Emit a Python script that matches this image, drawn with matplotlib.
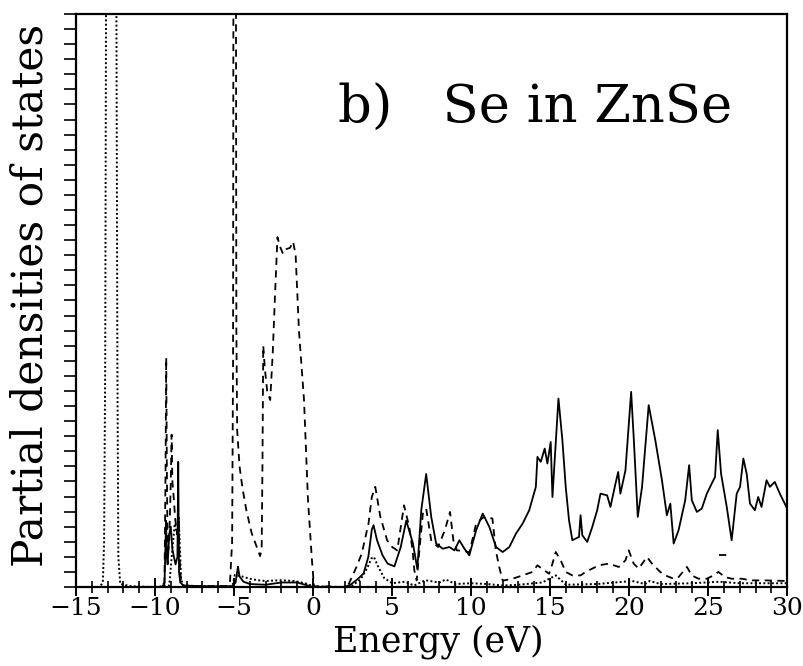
import numpy as np
import matplotlib
matplotlib.use("Agg")
import matplotlib.pyplot as plt
from matplotlib.ticker import MultipleLocator, NullFormatter

# ---- data (energy in eV, PDOS in arbitrary units) ----
# values above the frame (~38) are off scale in the original
solid_E = [-15, -9.6, -9.4, -9.33, -9.3, -9.25, -9.2, -9.1, -9.0, -8.9, -8.7, -8.58,
           -8.53, -8.48, -8.4, -8.2, -7.0, -6.0, -5.1, -4.9, -4.8, -4.75, -4.65, -4.4,
           -4.0, -3.0, -2.0, -1.0, -0.5, 0.0, 1.5, 1.9, 2.3, 2.8, 3.2, 3.5, 3.72, 3.83,
           4.05, 4.4, 4.72, 5.15, 5.55, 5.9, 6.32, 6.6, 6.85, 7.16, 7.48, 7.79, 8.21,
           8.63, 8.95, 9.26, 9.58, 9.89, 10.32, 10.74, 11.16, 11.58, 12.0, 12.42, 12.84,
           13.26, 13.68, 14.1, 14.2, 14.41, 14.66, 14.83, 15.04, 15.15, 15.53, 15.78,
           15.99, 16.2, 16.41, 16.83, 16.93, 17.04, 17.35, 17.67, 17.98, 18.19, 18.61,
           18.82, 19.14, 19.31, 19.45, 19.77, 20.13, 20.29, 20.55, 20.82, 21.24, 21.66,
           22.08, 22.39, 22.61, 22.82, 23.13, 23.55, 23.8, 23.97, 24.29, 24.6, 24.92,
           25.23, 25.44, 25.61, 25.82, 26.18, 26.49, 26.81, 27.02, 27.23, 27.44, 27.65,
           27.96, 28.17, 28.38, 28.7, 28.91, 29.22, 29.54, 29.85, 30.0]
solid_D = [0, 0, 0.2, 3.0, 4.4, 2.0, 1.5, 3.5, 4.0, 2.5, 1.5, 2.0,
           8.3, 1.0, 0.3, 0.1, 0.05, 0.05, 0.05, 0.3, 1.0, 1.35, 0.7, 0.35,
           0.2, 0.15, 0.3, 0.3, 0.15, 0.0, 0.0, 0.0, 0.1, 0.5, 0.9, 2.0, 3.8, 4.1,
           3.1, 2.1, 1.55, 1.37, 2.65, 4.4, 2.9, 1.2, 5.1, 7.5, 4.65, 2.88, 2.54,
           2.65, 2.43, 3.1, 2.54, 2.1, 3.76, 4.87, 3.98, 2.65, 2.32, 2.65, 3.54,
           4.2, 5.09, 6.64, 8.63, 8.3, 9.18, 8.19, 9.62, 5.97, 12.5, 9.73,
           6.64, 4.42, 3.1, 3.32, 4.76, 3.43, 2.99, 3.98, 5.09, 6.19, 6.08,
           5.31, 6.86, 7.63, 6.19, 7.74, 12.94, 9.96, 4.65, 6.64, 12.06, 9.73,
           7.08, 4.76, 5.53, 2.88, 3.76, 5.75, 8.08, 5.75, 4.98, 5.2, 6.19,
           6.86, 7.3, 10.4, 7.52, 5.31, 3.1, 6.19, 6.64, 8.52, 7.52, 5.53,
           5.09, 5.97, 5.31, 7.08, 6.64, 6.97, 6.19, 5.53, 5.2]

dashed_E = [-15, -9.6, -9.4, -9.33, -9.29, -9.25, -9.2, -9.1, -9.0, -8.95, -8.9, -8.82,
            -8.72, -8.6, -8.5, -8.45, -8.35, -8.2, -6.0, -5.4, -5.25, -5.12, -5.06, -5.02,
            -4.9, -4.85, -4.8, -4.65, -4.47, -4.22, -3.89, -3.56, -3.35, -3.25, -3.2,
            -3.15, -3.05, -2.9, -2.71, -2.55, -2.4, -2.25, -2.1, -1.9, -1.7, -1.45,
            -1.26, -1.1, -0.89, -0.57, -0.32, -0.07, 0.06, 1.9, 2.22, 2.75, 3.08, 3.51,
            3.72, 3.94, 4.26, 4.69, 5.01, 5.33, 5.76, 6.09, 6.3, 6.41, 6.56, 6.73, 6.95,
            7.16, 7.48, 7.91, 8.34, 8.67, 8.88, 9.1, 9.5, 9.9, 10.32, 10.75, 10.92, 11.35,
            11.57, 11.78, 12.0, 12.1, 12.63, 13.26, 13.89, 14.2, 14.62, 14.94, 15.15,
            15.36, 15.67, 15.99, 16.41, 16.93, 17.25, 17.67, 18.09, 18.72, 19.35, 19.77,
            19.98, 20.29, 20.61, 21.13, 21.45, 21.97, 22.29, 22.82, 23.13, 23.66, 23.97,
            24.39, 24.92, 25.34, 25.65, 26.07, 26.49, 27.12, 27.75, 28.6, 29.85, 30.0]
dashed_D = [0, 0, 0.3, 8.0, 15.2, 8.0, 2.0, 3.0, 7.0, 10.1, 7.0, 6.0,
            4.5, 3.5, 4.6, 2.0, 0.2, 0.05, 0.05, 0.05, 0.4, 3.0, 15.0, 60,
            60, 17.0, 10.4, 8.0, 6.6, 5.1, 3.6, 2.65, 2.05, 2.5, 8.0,
            16.0, 14.5, 13.0, 12.4, 15.5, 19.5, 23.2, 22.6, 22.1, 22.4, 22.5,
            22.9, 22.0, 17.0, 12.4, 5.8, 1.8, 0.05, 0.0, 0.11, 1.33, 2.21, 4.2,
            5.97, 6.64, 4.65, 3.1, 2.65, 2.43, 5.42, 3.98, 2.43, 1.11, 0.44, 2.43, 4.87,
            5.2, 3.1, 2.65, 3.76, 4.98, 3.1, 2.43, 2.4, 2.3, 4.2, 4.6, 4.65, 4.54,
            2.43, 1.33, 0.44, 0.44, 0.55, 0.77, 1.0, 1.44, 1.11, 0.88, 1.55,
            2.32, 1.77, 1.0, 0.77, 0.77, 1.0, 1.22, 1.44, 1.55, 1.33, 1.77,
            2.43, 1.55, 1.22, 1.99, 1.55, 1.0, 0.77, 0.55, 0.66, 1.33, 0.77,
            0.55, 0.55, 0.77, 1.0, 0.66, 0.55, 0.55, 0.44, 0.44, 0.4, 0.4]

# short stray dashed piece near 26 eV in the original
stray_E = [25.7, 26.2]
stray_D = [2.1, 2.1]

dotted_E = [-15, -13.5, -13.3, -13.22, -13.15, -13.05, -12.5, -12.38, -12.32, -12.2,
            -11.5, -10.0, -9.1, -8.9, -8.75, -8.6, -8.5, -8.42, -8.35, -8.2, -7.0,
            -5.1, -4.95, -4.5, -4.0, -3.5, -3.0, -2.0, -1.2, -0.5, 0.0, 1.9, 2.5, 3.0,
            3.4, 3.7, 3.85, 4.1, 4.5, 5.0, 5.8, 6.4, 7.1, 8.0, 8.4, 9.0, 10.0, 11.0,
            12.0, 13.0, 14.5, 15.36, 16.0, 18.0, 20.2, 21.0, 21.3, 22.0, 24.0, 25.7,
            27.0, 30.0]
dotted_D = [0, 0, 0.3, 3.0, 15.0, 60, 60, 15.0, 2.0, 0.2,
            0.05, 0.0, 0.1, 2.5, 4.2, 3.5, 4.6, 2.5, 0.5, 0.1, 0.05,
            0.05, 0.8, 0.7, 0.55, 0.45, 0.4, 0.45, 0.4, 0.25, 0.05, 0.0, 0.1, 0.5,
            1.2, 1.9, 2.0, 1.4, 0.6, 0.25, 0.35, 0.1, 0.45, 0.3, 0.5, 0.2, 0.25, 0.2,
            0.1, 0.15, 0.3, 0.77, 0.15, 0.2, 0.4, 0.2, 0.4, 0.2, 0.25, 0.35,
            0.25, 0.25]

plt.rcParams['font.family'] = ['DejaVu Serif']

fig = plt.figure(figsize=(8.04, 6.66), dpi=100)
ax = fig.add_axes([0.0945, 0.1186, 0.8845, 0.8604])

ax.plot(solid_E, solid_D, color='black', lw=1.3, ls='-')
ax.plot(dashed_E, dashed_D, color='black', lw=1.3, ls=(0, (4, 3)))
ax.plot(stray_E, stray_D, color='black', lw=1.3, ls=(0, (4, 3)))
ax.plot(dotted_E, dotted_D, color='black', lw=1.4, ls=(0, (1, 1.2)))

ax.set_xlim(-15, 30)
ax.set_ylim(0, 38)

ax.xaxis.set_major_locator(MultipleLocator(5))
ax.xaxis.set_minor_locator(MultipleLocator(1))
ax.yaxis.set_major_locator(MultipleLocator(1))
ax.yaxis.set_major_formatter(NullFormatter())

ax.tick_params(axis='x', which='major', direction='inout', length=13, width=1.4,
               labelsize=18, pad=1)
ax.tick_params(axis='x', which='minor', direction='inout', length=8, width=1.2)
ax.tick_params(axis='y', which='major', direction='out', length=9, width=1.2)

for s in ax.spines.values():
    s.set_linewidth(1.6)

ax.text(0.3685, 0.81, 'b)   Se in ZnSe', transform=ax.transAxes,
        fontsize=38, ha='left', va='baseline')

fig.text(438 / 804, 1 - 642 / 666, 'Energy (eV)', fontsize=25, ha='center', va='center')
fig.text(31 / 804, 1 - 295 / 666, 'Partial densities of states', fontsize=30.5,
         rotation=90, ha='center', va='center')

fig.savefig('out.png', dpi=100)
